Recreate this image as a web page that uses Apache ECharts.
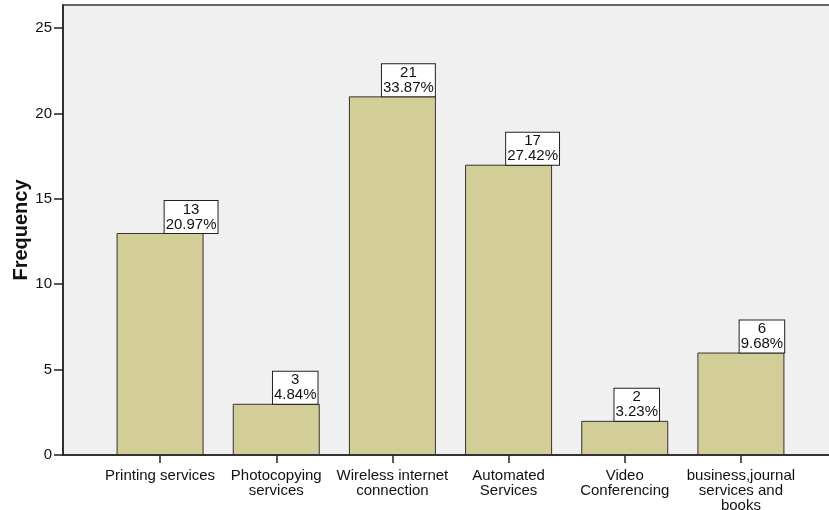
<!DOCTYPE html>
<html>
<head>
<meta charset="utf-8">
<script src="https://cdn.jsdelivr.net/npm/echarts@6/dist/echarts.min.js"></script>
<style>
html,body{margin:0;padding:0;background:#fff;}
#chart{width:829px;height:510px;}
</style>
</head>
<body>
<div id="chart"></div>
<script>
const categories = ['Printing services', 'Photocopying\nservices', 'Wireless internet\nconnection', 'Automated\nServices', 'Video\nConferencing', 'business,journal\nservices and\nbooks'];
const frequency = [13, 3, 21, 17, 2, 6];
const percent = [20.97, 4.84, 33.87, 27.42, 3.23, 9.68];
const yTicks = [0, 5, 10, 15, 20, 25];

const chart = echarts.init(document.getElementById('chart'), null, {renderer: 'canvas'});
const axisColor = '#222';
const yMax = 26.35;
// horizontal nudge of each value box relative to its bar centre (as in the reference)
const labelNudge = [31, 19, 16, 24, 12, 21];

chart.setOption({
  animation: false,
  textStyle: {fontFamily: 'Liberation Sans'},
  grid: [
    {left: 63, right: -3, top: 5, bottom: 55, containLabel: false, outerBoundsMode: 'none',
     show: true, backgroundColor: '#f0f0f0', borderColor: '#666', borderWidth: 2},
    {left: 102, right: 30, top: 5, bottom: 55, containLabel: false, outerBoundsMode: 'none'}
  ],
  xAxis: [
    {gridIndex: 0, type: 'value', min: 0, max: 1,
     axisLine: {show: true, lineStyle: {color: axisColor, width: 1.5}},
     axisTick: {show: false}, axisLabel: {show: false}, splitLine: {show: false}},
    {gridIndex: 1, type: 'category', data: categories,
     axisLine: {show: false},
     axisTick: {show: true, alignWithLabel: true, length: 8, lineStyle: {color: axisColor, width: 1.5}},
     axisLabel: {fontSize: 15, lineHeight: 15, color: '#111', margin: 13, interval: 0}}
  ],
  yAxis: [
    {gridIndex: 0, type: 'value', min: 0, max: yMax,
     name: 'Frequency', nameLocation: 'middle', nameGap: 32, nameMoveOverlap: false,
     nameTextStyle: {fontSize: 20, fontWeight: 'bold', color: '#111'},
     axisLine: {show: true, lineStyle: {color: axisColor, width: 1.5}},
     axisTick: {show: true, inside: false, length: 9, customValues: yTicks, lineStyle: {color: axisColor, width: 1.5}},
     axisLabel: {customValues: yTicks, fontSize: 15, color: '#111', margin: 11},
     splitLine: {show: false}},
    {gridIndex: 1, type: 'value', min: 0, max: yMax, show: false}
  ],
  series: [{
    type: 'bar',
    xAxisIndex: 1,
    yAxisIndex: 1,
    data: frequency.map((v, i) => ({value: v, label: {offset: [labelNudge[i], 0]}})),
    barWidth: 87,
    itemStyle: {color: '#d3ce97', borderColor: '#333', borderWidth: 1},
    label: {
      show: true,
      position: 'top',
      distance: 0,
      formatter: p => p.value + '\n' + percent[p.dataIndex].toFixed(2) + '%',
      fontSize: 15,
      lineHeight: 15,
      color: '#111',
      backgroundColor: '#fff',
      borderColor: '#222',
      borderWidth: 1,
      padding: [1, 1, 1, 1],
      align: 'center'
    }
  }]
});
</script>
</body>
</html>
